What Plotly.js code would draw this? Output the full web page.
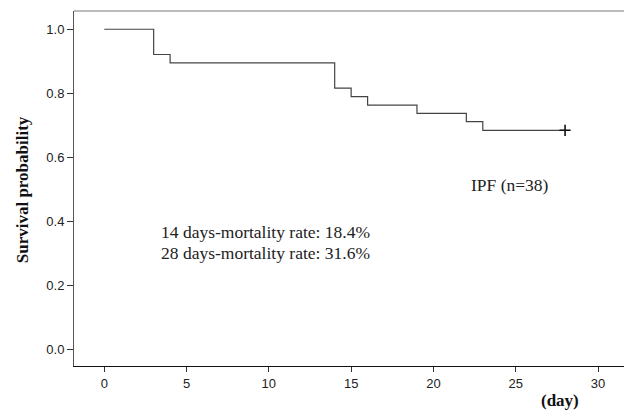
<!DOCTYPE html>
<html>
<head>
<meta charset="utf-8">
<script src="https://cdn.plot.ly/plotly-3.0.1.min.js"></script>
<style>html,body{margin:0;padding:0;background:#fff;}#chart{width:624px;height:412px;}</style>
</head>
<body>
<div id="chart"></div>
<script>
// Kaplan-Meier step data (days, survival probability)
const days = [0, 3, 4, 14, 15, 16, 19, 22, 23, 28];
const survival = [1.0, 0.921, 0.895, 0.816, 0.789, 0.763, 0.737, 0.711, 0.684, 0.684];
const censoredDays = [28];
const censoredSurvival = [0.684];
const xTicks = [0, 5, 10, 15, 20, 25, 30];
const yTicks = [0.0, 0.2, 0.4, 0.6, 0.8, 1.0];
const yTickLabels = ["0.0", "0.2", "0.4", "0.6", "0.8", "1.0"];
const groupLabel = "IPF (n=38)";
const rateLines = ["14 days-mortality rate: 18.4%", "28 days-mortality rate: 31.6%"];

const serif = "Liberation Serif, Times New Roman, serif";
const sans = "Liberation Sans, Arial, sans-serif";

const traces = [
  {
    x: days, y: survival, type: "scatter", mode: "lines",
    line: {shape: "hv", color: "#444", width: 1.2},
    hoverinfo: "skip", showlegend: false
  },
  {
    x: censoredDays, y: censoredSurvival, type: "scatter", mode: "markers",
    marker: {symbol: "cross-thin", size: 8, line: {color: "#111", width: 1.6}},
    hoverinfo: "skip", showlegend: false
  }
];

const rateYs = [0.3666, 0.3009];

const layout = {
  width: 624, height: 412,
  margin: {l: 74, r: 0, t: 11, b: 46},
  paper_bgcolor: "#fff", plot_bgcolor: "#fff",
  showlegend: false,
  xaxis: {
    range: [-1.84, 31.58], showgrid: false, zeroline: false,
    showline: true, linecolor: "#111", linewidth: 1,
    tickmode: "array", tickvals: xTicks, ticktext: xTicks.map(String),
    ticks: "outside", ticklen: 5, tickwidth: 1, tickcolor: "#333",
    tickfont: {family: sans, size: 13, color: "#222"}
  },
  yaxis: {
    range: [-0.053, 1.057], showgrid: false, zeroline: false,
    showline: true, linecolor: "#555", linewidth: 1,
    tickmode: "array", tickvals: yTicks, ticktext: yTickLabels,
    ticks: "outside", ticklen: 6, tickwidth: 1, tickcolor: "#333",
    tickfont: {family: sans, size: 13, color: "#222"}
  },
  shapes: [
    {type: "line", xref: "paper", yref: "paper", x0: 0, x1: 1, y0: 1, y1: 1,
     line: {color: "#777", width: 1}}
  ],
  annotations: [
    {text: "<b>Survival probability</b>", xref: "paper", yref: "paper", x: 0, y: 0.495,
     xshift: -52, textangle: -90, showarrow: false, xanchor: "center", yanchor: "middle",
     font: {family: serif, size: 17, color: "#111"}},
    {text: "<b>(day)</b>", xref: "x", yref: "paper", x: 27.72, y: -0.0985,
     showarrow: false, xanchor: "center", yanchor: "middle",
     font: {family: serif, size: 17, color: "#111"}},
    {text: groupLabel, xref: "x", yref: "y", x: 24.68, y: 0.5125,
     showarrow: false, xanchor: "center", yanchor: "middle",
     font: {family: serif, size: 17.5, color: "#222"}}
  ].concat(rateLines.map((t, i) => ({
    text: t, xref: "x", yref: "y", x: 3.35, y: rateYs[i],
    showarrow: false, xanchor: "left", yanchor: "middle", align: "left",
    font: {family: serif, size: 17.5, color: "#222"}
  })))
};

Plotly.newPlot("chart", traces, layout, {displayModeBar: false, staticPlot: true});
</script>
</body>
</html>
